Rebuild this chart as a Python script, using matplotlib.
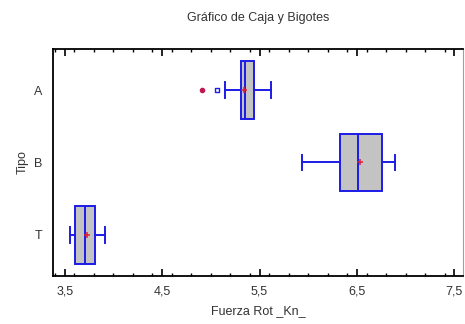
import matplotlib
matplotlib.use("Agg")
import matplotlib.pyplot as plt
from matplotlib.ticker import MultipleLocator, FuncFormatter

plt.rcParams['font.family'] = ['Liberation Sans', 'DejaVu Sans']

# Datos (Fuerza Rot _Kn_ por Tipo)
tipos = ['T', 'B', 'A']
q1 = [3.605, 6.327, 5.309]
mediana = [3.711, 6.513, 5.350]
q3 = [3.806, 6.755, 5.439]
bigote_bajo = [3.558, 5.932, 5.143]
bigote_alto = [3.918, 6.891, 5.619]
media = [3.732, 6.534, 5.344]
# puntos atipicos (solo en A)
atipico_x = [5.061]
atipico_y = ['A']
extremo_x = [4.911]
extremo_y = ['A']

azul = '#1c1ce6'
stats = []
for i, t in enumerate(tipos):
    stats.append({'label': t, 'q1': q1[i], 'med': mediana[i], 'q3': q3[i],
                  'whislo': bigote_bajo[i], 'whishi': bigote_alto[i],
                  'mean': media[i], 'fliers': []})

fig = plt.figure(figsize=(4.65, 3.24), dpi=100)
ax = fig.add_axes([0.114, 0.148, 0.882, 0.701])

pos = list(range(len(tipos)))
ax.bxp(stats, positions=pos, vert=False, widths=0.8, patch_artist=True,
       showmeans=True, showfliers=False,
       boxprops=dict(facecolor='#c3c3c3', edgecolor=azul, linewidth=1.4),
       medianprops=dict(color=azul, linewidth=1.4),
       whiskerprops=dict(color=azul, linewidth=1.4),
       capprops=dict(color=azul, linewidth=1.4),
       meanprops=dict(marker='+', markeredgecolor='#e0203a', markersize=4,
                      markeredgewidth=1.1),
       capwidths=0.22)

ax.scatter(atipico_x, [tipos.index(t) for t in atipico_y], marker='s', s=7,
           facecolors='none', edgecolors=azul, linewidths=1.0, zorder=4)
ax.scatter(extremo_x, [tipos.index(t) for t in extremo_y], marker='o', s=9,
           color='#c01850', zorder=4)

ax.set_xlim(3.38, 7.59)
ax.set_ylim(-0.57, 2.57)
ax.set_yticks(pos)
ax.set_yticklabels(tipos)
ax.xaxis.set_minor_locator(MultipleLocator(0.2))
ax.set_xticks([3.5, 4.5, 5.5, 6.5, 7.5])
ax.xaxis.set_major_formatter(FuncFormatter(lambda v, p: f'{v:.1f}'.replace('.', ',')))

ax.tick_params(axis='x', which='major', direction='in', length=5, width=1.2,
               top=True, labelsize=9, colors='black', labelcolor='#333333', pad=7)
ax.tick_params(axis='x', which='minor', direction='in', length=2.5, width=1,
               top=True)
ax.tick_params(axis='y', length=0, labelsize=9, labelcolor='#333333', pad=8)

for s in ['left', 'bottom', 'top']:
    ax.spines[s].set_linewidth(1.3)
    ax.spines[s].set_color('black')
ax.spines['right'].set_color('#a0a0a0')
ax.spines['right'].set_linewidth(0.8)

ax.set_xlabel('Fuerza Rot _Kn_', fontsize=9, color='#333333', labelpad=5)
ax.set_ylabel('Tipo', fontsize=9, color='#333333')
ax.yaxis.set_label_coords(-0.06, 0.5)
fig.text(0.555, 0.945, 'Gráfico de Caja y Bigotes', ha='center', va='center',
         fontsize=9, color='#333333')

fig.savefig('out.png', dpi=100)
